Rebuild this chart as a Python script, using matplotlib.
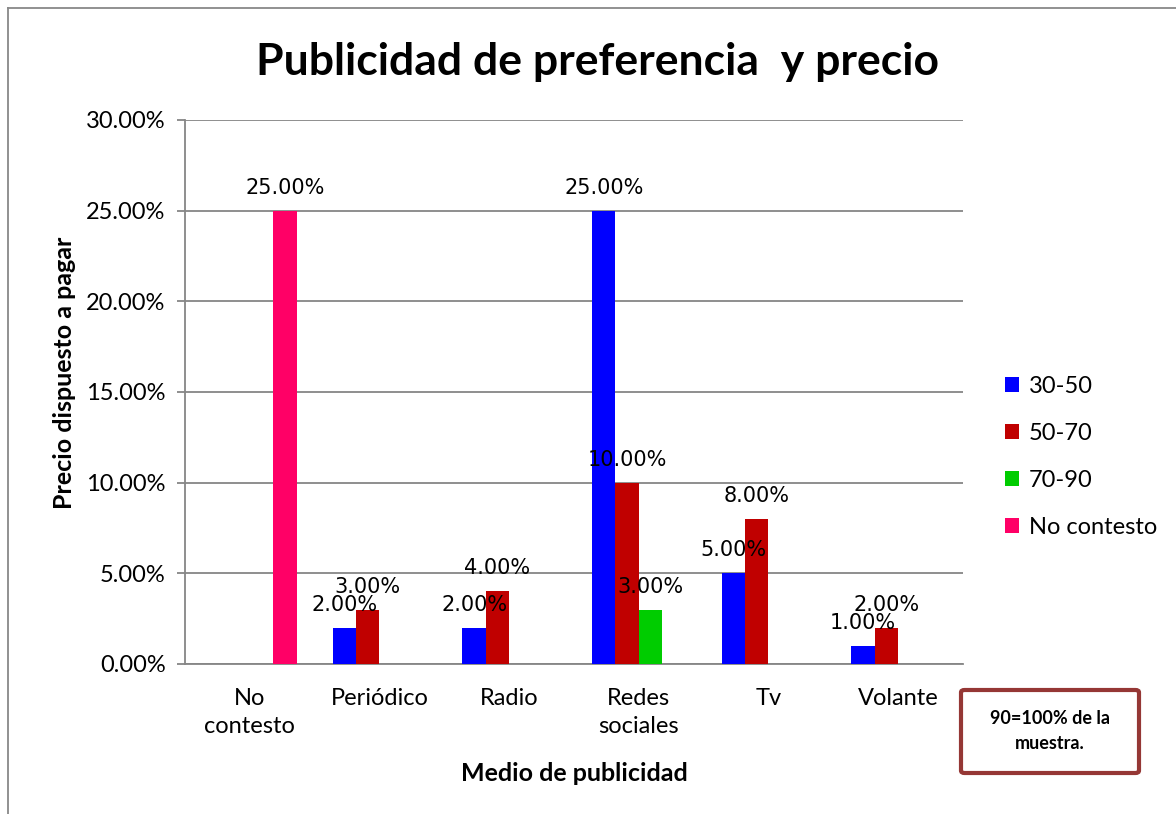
import matplotlib.pyplot as plt
import numpy as np
from matplotlib.patches import FancyBboxPatch
from matplotlib.lines import Line2D
from matplotlib.ticker import FuncFormatter

# data
categorias = ['No\ncontesto', 'Periódico', 'Radio', 'Redes\nsociales', 'Tv', 'Volante']
series = ['30-50', '50-70', '70-90', 'No contesto']
v_30_50 = [0, 2, 2, 25, 5, 1]
v_50_70 = [0, 3, 4, 10, 8, 2]
v_70_90 = [0, 0, 0, 3, 0, 0]
v_no_contesto = [25, 0, 0, 0, 0, 0]
colores = ['#0000FF', '#C00000', '#00CC00', '#FF0066']

valores = [v_30_50, v_50_70, v_70_90, v_no_contesto]

fig = plt.figure(figsize=(11.76, 8.14), dpi=100)
ax = fig.add_axes([185/1176, 1-664/814, 778/1176, 544/814])

x = np.arange(len(categorias))
w = 0.18
for i, (nombre, vals, col) in enumerate(zip(series, valores, colores)):
    pos = x + (i - 1.5) * w
    ax.bar(pos, vals, width=w, color=col, label=nombre, zorder=3)
    for p, v in zip(pos, vals):
        if v > 0:
            ax.annotate('%.2f%%' % v, (p, v), xytext=(0, 17), textcoords='offset pixels',
                        ha='center', va='baseline', fontsize=15,
                        family='DejaVu Sans', zorder=4)

ax.set_xlim(-0.5, len(categorias) - 0.5)
ax.set_ylim(0, 30)
ax.set_yticks(np.arange(0, 31, 5))
ax.yaxis.set_major_formatter(FuncFormatter(lambda v, p: '%.2f%%' % v))
ax.set_xticks(x)
ax.set_xticklabels(categorias, linespacing=1.45)
ax.grid(axis='y', color='#868686', linewidth=1.3, zorder=0)
for s in ['top', 'right']:
    ax.spines[s].set_visible(False)
for s in ['left', 'bottom']:
    ax.spines[s].set_color('#868686')
    ax.spines[s].set_linewidth(1.3)
ax.tick_params(axis='y', length=6, color='#868686', width=1.3, labelsize=17, pad=8)
ax.tick_params(axis='x', length=0, labelsize=17, pad=17)
for t in ax.get_xticklabels() + ax.get_yticklabels():
    t.set_family('Lato')

ax.set_xlabel('Medio de publicidad', fontsize=18, fontweight='bold', family='Lato')
ax.set_ylabel('Precio dispuesto a pagar', fontsize=18, fontweight='bold', family='Lato')
ax.xaxis.set_label_coords(0.501, -0.18)
ax.yaxis.set_label_coords(-0.14, 0.535)

fig.text(0.508, 1-62/814, 'Publicidad de preferencia  y precio', ha='center', va='center',
         fontsize=32, fontweight='bold', family='Lato')

ax.legend(loc='center left', bbox_to_anchor=(984/1176, 1-457/814), bbox_transform=fig.transFigure,
          frameon=False, prop={'family': 'Lato', 'size': 17}, handlelength=0.6, handleheight=0.6,
          handletextpad=0.4, labelspacing=1.1)

# nota
caja = FancyBboxPatch((961/1176, 1-773/814), 178/1176, 83/814, boxstyle='round,pad=0,rounding_size=0.003',
                      transform=fig.transFigure, facecolor='white', edgecolor='#953735', linewidth=3)
fig.patches.append(caja)
fig.text(1050/1176, 1-731/814, '90=100% de la\nmuestra.', ha='center', va='center', fontsize=13,
         fontweight='bold', family='Lato', linespacing=1.55)

# borde exterior
fig.add_artist(Line2D([8/1176, 1], [1-8/814, 1-8/814], transform=fig.transFigure, color='#888888', lw=1.3))
fig.add_artist(Line2D([8/1176, 8/1176], [0, 1-8/814], transform=fig.transFigure, color='#888888', lw=1.3))

fig.savefig('out.png', dpi=100)
